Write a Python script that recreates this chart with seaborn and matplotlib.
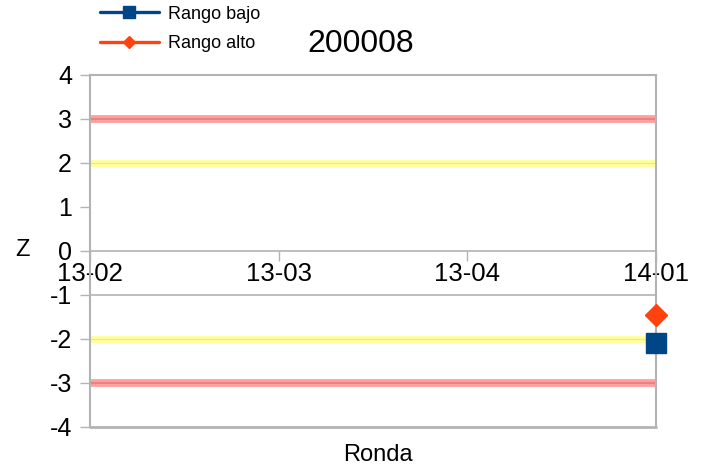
import numpy as np
import pandas as pd
import matplotlib
matplotlib.use("Agg")
import matplotlib.pyplot as plt
from matplotlib.lines import Line2D
import seaborn as sns

# === DATOS ===
rondas = ["13-02", "13-03", "13-04", "14-01"]
rango_bajo = [np.nan, np.nan, np.nan, -2.1]
rango_alto = [np.nan, np.nan, np.nan, -1.45]
limite_rojo = [3, 3, 3, 3]
limite_amarillo = [2, 2, 2, 2]
titulo = "200008"

df = pd.DataFrame({"ronda": rondas, "bajo": rango_bajo, "alto": rango_alto,
                   "rojo": limite_rojo, "amarillo": limite_amarillo})

sns.set_style("white")
plt.rcParams["font.family"] = ["Liberation Sans", "DejaVu Sans"]
plt.rcParams["axes.unicode_minus"] = False
plt.rcParams["text.color"] = "black"
plt.rcParams["xtick.labelcolor"] = "black"
plt.rcParams["ytick.labelcolor"] = "black"

AZUL = "#004586"
NARANJA = "#ff420e"
GRIS = "#b3b3b3"

fig = plt.figure(figsize=(7.04, 4.68), dpi=100)
ax = fig.add_axes([90 / 704, 41 / 468, 566 / 704, 352 / 468])

# === BANDAS DE LIMITE ===
for signo in (1, -1):
    sns.lineplot(x=df["ronda"], y=signo * df["rojo"], ax=ax, color="#ff8080",
                 linewidth=5.6, alpha=0.75, sort=False)
    sns.lineplot(x=df["ronda"], y=signo * df["rojo"], ax=ax, color="#e87878",
                 linewidth=1.4, alpha=0.8, sort=False)
    sns.lineplot(x=df["ronda"], y=signo * df["amarillo"], ax=ax, color="#ffff80",
                 linewidth=5.0, alpha=0.75, sort=False)
    sns.lineplot(x=df["ronda"], y=signo * df["amarillo"], ax=ax, color="#e6e680",
                 linewidth=1.0, alpha=0.8, sort=False)

# === SERIES ===
ax.plot(df["ronda"], df["bajo"], color=AZUL, marker="s", markersize=14,
        linewidth=2.2, clip_on=False, zorder=5)
ax.plot(df["ronda"], df["alto"], color=NARANJA, marker="D", markersize=11,
        linewidth=2.2, clip_on=False, zorder=5)

ax.set_xlim(0, 3)
ax.set_ylim(-4, 4)
ax.set_yticks(range(-4, 5))
ax.set_xlabel("")
ax.set_ylabel("")

# marco gris
for s in ax.spines.values():
    s.set_color(GRIS)
    s.set_linewidth(1.5)
ax.spines["bottom"].set_position(("data", 0))
ax.spines["bottom"].set_linewidth(1.2)
ax.axhline(-4, color=GRIS, linewidth=2, clip_on=False, zorder=1)
ax.axhline(-1, color=GRIS, linewidth=1.2, zorder=1)

ax.tick_params(axis="y", direction="out", length=7, width=1, color=GRIS,
               labelsize=18, pad=6, left=True)
ax.tick_params(axis="x", direction="out", length=7, width=1, color=GRIS,
               labelsize=18.5, pad=1, bottom=True)

fig.text(22 / 704, 1 - 250 / 468, "Z", fontsize=17, ha="center", va="center")
fig.text(378 / 704, 1 - 455 / 468, "Ronda", fontsize=17, ha="center", va="center")
fig.text(361 / 704, 1 - 44 / 468, titulo, fontsize=23, ha="center", va="center")

# === LEYENDA ===
handles = [Line2D([], [], color=AZUL, marker="s", markersize=8, linewidth=2.4),
           Line2D([], [], color=NARANJA, marker="D", markersize=6.5, linewidth=2.4)]
fig.legend(handles, ["Rango bajo", "Rango alto"], loc="upper left",
           bbox_to_anchor=(96 / 704, 1 - 2 / 468), frameon=False, fontsize=13,
           handlelength=3.3, handletextpad=0.5, labelspacing=0.7,
           borderaxespad=0, borderpad=0.2)

fig.savefig("out.png", dpi=100)
